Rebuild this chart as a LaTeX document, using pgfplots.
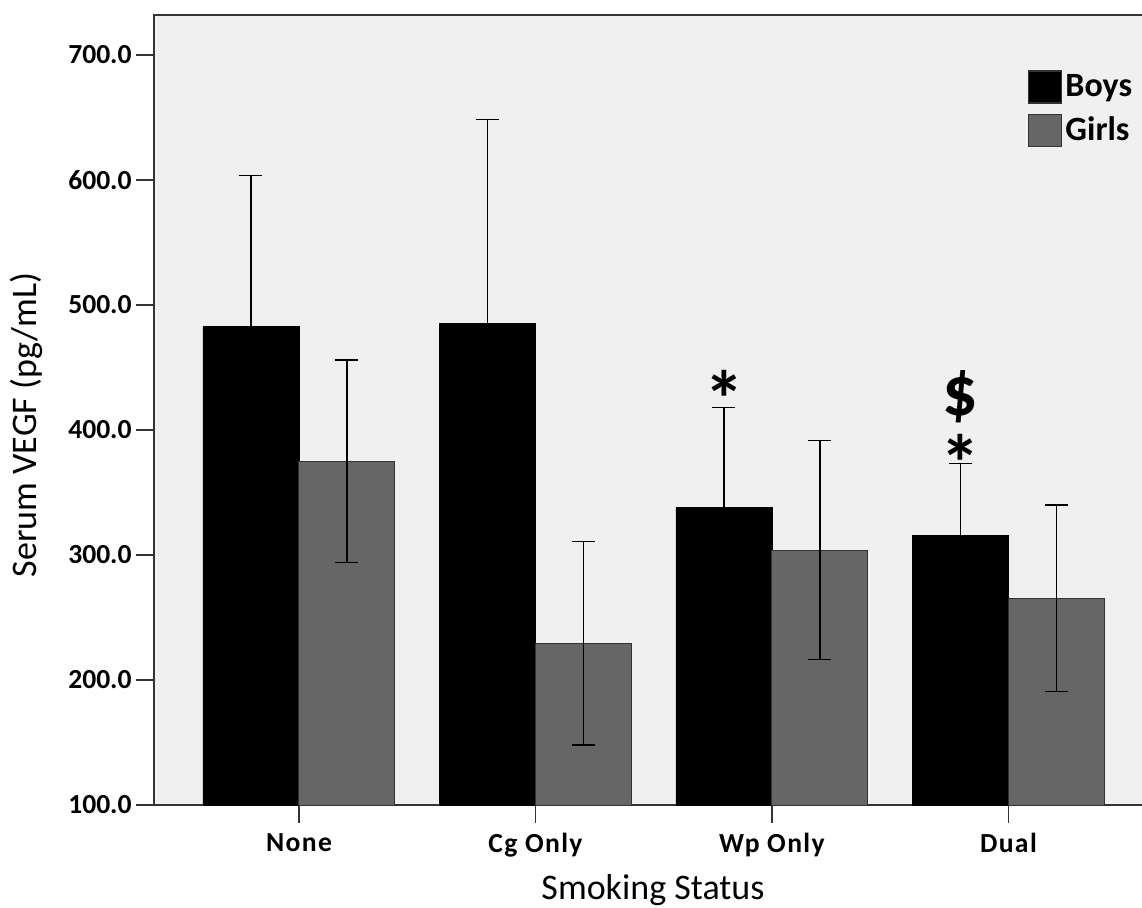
\documentclass[border=0pt]{standalone}
\usepackage{fontspec}
\setmainfont{Carlito}
\usepackage{pgfplots}
\pgfplotsset{compat=1.18}
\definecolor{bgc}{HTML}{F0F0F0}
\definecolor{girl}{HTML}{666666}
\begin{document}
\begin{tikzpicture}
\begin{axis}[
  name=ax, at={(0,0)}, anchor=south west,
  scale only axis, width=499.7pt, height=395pt,
  xmin=-0.613, xmax=3.613, ymin=100, ymax=732,
  axis background/.style={fill=bgc},
  axis line style={draw=black!80, line width=1pt},
  ytick={100,200,300,400,500,600,700},
  xtick={0,1,2,3}, xticklabels={None,Cg Only,Wp Only,Dual},
  tick align=outside, major tick length=9pt,
  tick style={draw=black!80, line width=0.8pt},
  tick pos=left,
  /pgf/number format/.cd, fixed, fixed zerofill, precision=1, assume math mode=true,
  /pgfplots/.cd,
  ticklabel style={font=\fontsize{13.8}{16}\selectfont\bfseries},
  yticklabel style={inner sep=0pt, xshift=-2pt},
  xticklabel style={inner sep=0pt, yshift=-5pt, font=\fontsize{13.8}{16}\selectfont\bfseries\addfontfeature{LetterSpace=5}},
  label style={font=\fontsize{18}{21}\selectfont},
  ylabel={Serum VEGF (pg/mL)}, xlabel={Smoking Status},
  ylabel style={at={(axis description cs:-0.128,0.481)}, anchor=center},
  xlabel style={at={(axis description cs:0.4993,-0.1076)}, anchor=center},
  legend style={at={(axis description cs:0.8744,0.9304)}, anchor=north west,
    draw=none, fill=none, inner sep=0pt, row sep=5pt,
    font=\fontsize{17}{20}\selectfont\bfseries,
    nodes={inner sep=1.5pt}},
  legend cell align=left,
  legend image code/.code={\draw[#1, line width=0.6pt, draw=black!80] (0pt,-8pt) rectangle (16.5pt,8pt);},
]
\addplot[ybar, fill=black, draw=black, bar width=0.406, bar shift=0,
  error bars/.cd, y dir=plus, y explicit, error mark=|,
  error bar style={black, line width=0.6pt},
  error mark options={mark size=5.75pt, line width=0.6pt, black}]
  coordinates {(-0.203,482.5) +- (0,121) (0.797,485) +- (0,163.5) (1.797,338) +- (0,80) (2.797,316) +- (0,57)};
\addlegendentry{Boys}
\addplot[ybar, fill=girl, draw=black!80, line width=0.5pt, bar width=0.406, bar shift=0,
  error bars/.cd, y dir=both, y explicit, error mark=|,
  error bar style={black, line width=0.6pt},
  error mark options={mark size=5.75pt, line width=0.6pt, black}]
  coordinates {(0.203,375) +- (0,81) (1.203,229.5) +- (0,81.5) (2.203,304) +- (0,87.5) (3.203,265.5) +- (0,74.5)};
\addlegendentry{Girls}
\node[inner sep=0pt, font=\fontsize{40}{40}\selectfont\bfseries] at (axis cs:1.797,425) {*};
\node[inner sep=0pt, font=\fontsize{35}{35}\selectfont\bfseries] at (axis cs:2.797,426.4) {\$};
\node[inner sep=0pt, font=\fontsize{40}{40}\selectfont\bfseries] at (axis cs:2.797,374) {*};
\end{axis}
\pgfresetboundingbox
\useasboundingbox (-77pt,-51pt) rectangle (494pt,402.5pt);
\end{tikzpicture}
\end{document}
